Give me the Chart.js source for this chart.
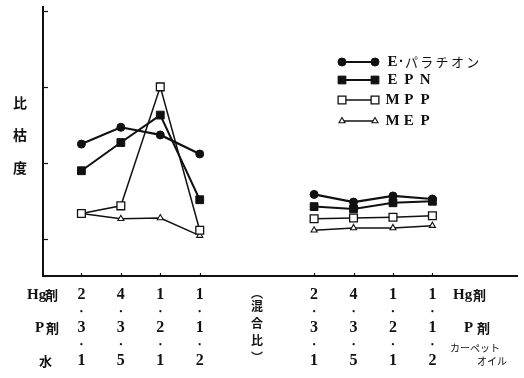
<!DOCTYPE html>
<html lang="ja">
<head>
<meta charset="UTF-8">
<script src="https://cdn.jsdelivr.net/npm/chart.js@4.4.0/dist/chart.umd.min.js"></script>
<style>
  html, body { margin: 0; padding: 0; background: #fff; }
</style>
</head>
<body>
<canvas id="chart" width="524" height="378"></canvas>
<script>
// x位置 (左: 水和剤, 右: カーペットオイル)
var xPos = [0, 1, 2, 3, 5.9, 6.9, 7.9, 8.9];
var hgRatio = [2, 4, 1, 1, 2, 4, 1, 1];
var pRatio = [3, 3, 2, 1, 3, 3, 2, 1];
var liquidRatio = [1, 5, 1, 2, 1, 5, 1, 2];

// 比枯度 (目盛なし, 読み取り値)
var eParathion = [1.25, 1.47, 1.37, 1.12, 0.59, 0.49, 0.57, 0.53];
var epn        = [0.90, 1.27, 1.63, 0.52, 0.43, 0.40, 0.48, 0.50];
var mpp        = [0.34, 0.44, 2.00, 0.12, 0.27, 0.28, 0.29, 0.31];
var mep        = [0.34, 0.27, 0.28, 0.05, 0.12, 0.15, 0.15, 0.18];

var seriesNames = ['E·パラチオン', 'EPN', 'MPP', 'MEP'];
var yTicks = [0, 1, 2, 3];

var ink = '#111';

// 左右のグループの間は線をつながない
function toPoints(vals) {
  var pts = [];
  for (var i = 0; i < vals.length; i++) {
    if (i == 4) pts.push({ x: (xPos[3] + xPos[4]) / 2, y: null });
    pts.push({ x: xPos[i], y: vals[i] });
  }
  return pts;
}

var datasets = [
  { label: seriesNames[0], data: toPoints(eParathion), pointStyle: 'circle', pointRadius: 4,
    backgroundColor: ink, borderColor: ink, borderWidth: 2.2, pointBorderWidth: 1 },
  { label: seriesNames[1], data: toPoints(epn), pointStyle: 'rect', pointRadius: 5.5,
    backgroundColor: ink, borderColor: ink, borderWidth: 2, pointBorderWidth: 1 },
  { label: seriesNames[2], data: toPoints(mpp), pointStyle: 'rect', pointRadius: 5.5,
    backgroundColor: '#fff', borderColor: ink, borderWidth: 1.5, pointBorderWidth: 1.3 },
  { label: seriesNames[3], data: toPoints(mep), pointStyle: 'triangle', pointRadius: 3.5,
    backgroundColor: '#fff', borderColor: ink, borderWidth: 1.5, pointBorderWidth: 1.1 }
];

var SERIF = '"Liberation Serif", "DejaVu Serif", serif';
var CJK = '"Noto Sans CJK JP", sans-serif';

// 一文字ずつ中心を指定して描く
function drawCells(ctx, str, cx, y, step) {
  var chars = Array.from(str);
  ctx.textAlign = 'center';
  for (var i = 0; i < chars.length; i++) ctx.fillText(chars[i], cx + i * step, y);
}

var annotations = {
  id: 'annotations',
  afterDraw: function(chart) {
    var ctx = chart.ctx, xs = chart.scales.x, ys = chart.scales.y, a = chart.chartArea;
    ctx.save();
    ctx.strokeStyle = ink;
    ctx.fillStyle = ink;
    ctx.lineWidth = 1.2;

    // 内向きの目盛
    yTicks.forEach(function(v) {
      var py = Math.round(ys.getPixelForValue(v)) + 0.5;
      ctx.beginPath(); ctx.moveTo(a.left, py); ctx.lineTo(a.left + 5, py); ctx.stroke();
    });
    xPos.forEach(function(v) {
      var px = Math.round(xs.getPixelForValue(v)) + 0.5;
      ctx.beginPath(); ctx.moveTo(px, a.bottom); ctx.lineTo(px, a.bottom - 3); ctx.stroke();
    });

    ctx.textBaseline = 'middle';

    // 縦軸タイトル
    ctx.font = 'bold 14px ' + CJK;
    ctx.textAlign = 'center';
    ctx.fillText('比', 20, 103);
    ctx.fillText('枯', 20, 135);
    ctx.fillText('度', 20, 168);

    // 混合比の数字
    var rowY = [295, 328, 361], dotY = [312, 345];
    for (var i = 0; i < xPos.length; i++) {
      var px = xs.getPixelForValue(xPos[i]);
      ctx.font = 'bold 16px ' + SERIF;
      ctx.textAlign = 'center';
      ctx.fillText(String(hgRatio[i]), px, rowY[0]);
      ctx.fillText(String(pRatio[i]), px, rowY[1]);
      ctx.fillText(String(liquidRatio[i]), px, rowY[2]);
      ctx.font = 'bold 8px ' + SERIF;
      ctx.fillText('•', px, dotY[0]);
      ctx.fillText('•', px, dotY[1]);
    }

    // 左側のラベル
    ctx.textAlign = 'left';
    ctx.font = 'bold 15px ' + SERIF;
    ctx.fillText('Hg', 27, 295);
    ctx.fillText('P', 35, 328);
    ctx.font = 'bold 13px ' + CJK;
    ctx.fillText('剤', 45, 295);
    ctx.fillText('剤', 46, 328);
    ctx.fillText('水', 39, 361);

    // 右側のラベル
    ctx.font = 'bold 15px ' + SERIF;
    ctx.fillText('Hg', 453, 295);
    ctx.fillText('P', 464, 328);
    ctx.font = 'bold 13px ' + CJK;
    ctx.fillText('剤', 473, 295);
    ctx.fillText('剤', 477, 328);
    ctx.font = '10px ' + CJK;
    ctx.fillText('カーペット', 450, 348);
    ctx.fillText('オイル', 477, 361);

    // (混合比) 縦書き
    ctx.font = 'bold 12px ' + CJK;
    ctx.textAlign = 'center';
    var midX = xs.getPixelForValue((xPos[3] + xPos[4]) / 2);
    ['︵', '混', '合', '比', '︶'].forEach(function(c, k) {
      ctx.fillText(c, midX, [293, 306, 323, 340, 357][k]);
    });

    // 凡例
    var legY = [62, 80, 100, 121];
    chart.data.datasets.forEach(function(ds, k) {
      var y = legY[k];
      ctx.strokeStyle = ink;
      ctx.lineWidth = ds.borderWidth;
      ctx.beginPath(); ctx.moveTo(342, y); ctx.lineTo(375, y); ctx.stroke();
      ctx.fillStyle = ds.backgroundColor;
      ctx.lineWidth = ds.pointBorderWidth;
      [342, 375].forEach(function(px) {
        Chart.helpers.drawPoint(ctx, { pointStyle: ds.pointStyle, radius: ds.pointRadius,
          borderWidth: ds.pointBorderWidth, rotation: 0 }, px, y);
      });
      ctx.fillStyle = ink;
      if (k == 0) {
        ctx.font = 'bold 15px ' + SERIF;
        drawCells(ctx, 'E', 392.5, y, 0);
        drawCells(ctx, '·', 401, y, 0);
        ctx.font = '13px ' + CJK;
        drawCells(ctx, 'パラチオン', 411.5, y, 15.3);
      } else {
        ctx.font = 'bold 15px ' + SERIF;
        drawCells(ctx, ds.label, 392.5, y, 16.3);
      }
    });

    ctx.restore();
  }
};

var ctx = document.getElementById('chart').getContext('2d');
var chart = new Chart(ctx, {
  type: 'line',
  data: { datasets: datasets },
  options: {
    animation: false,
    responsive: false,
    layout: { padding: { left: 43, top: 6, right: 6, bottom: 102 } },
    plugins: { legend: { display: false }, tooltip: { enabled: false } },
    elements: { line: { tension: 0 } },
    scales: {
      x: {
        type: 'linear', min: -0.974, max: 11.05,
        ticks: { display: false },
        grid: { display: true, drawOnChartArea: false, drawTicks: false },
        border: { display: true, color: ink, width: 2 }
      },
      y: {
        type: 'linear', min: -0.48, max: 3.05,
        ticks: { display: false },
        grid: { display: true, drawOnChartArea: false, drawTicks: false },
        border: { display: true, color: ink, width: 2 }
      }
    }
  },
  plugins: [annotations]
});
</script>
</body>
</html>
